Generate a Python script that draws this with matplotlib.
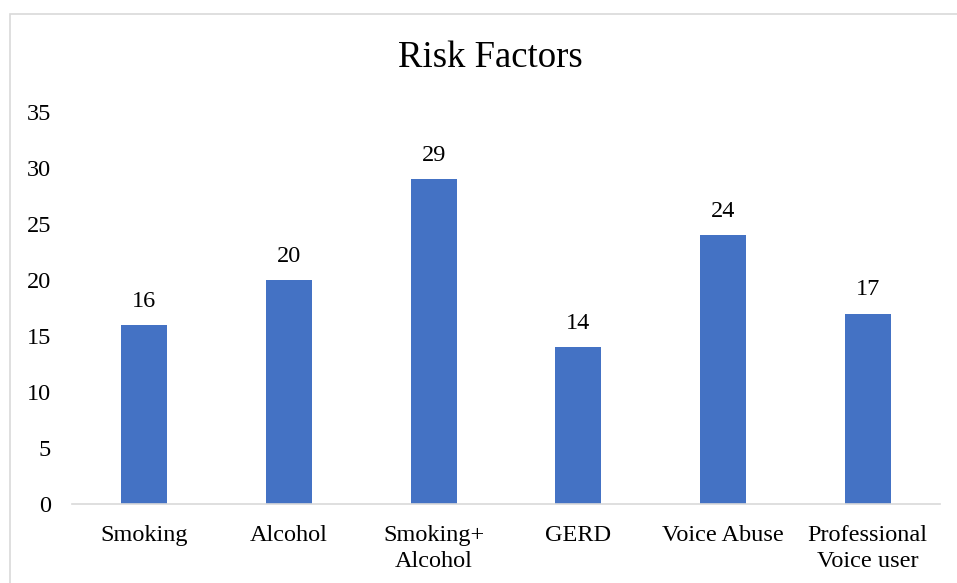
import matplotlib.pyplot as plt
from matplotlib.patches import Rectangle

# ------------------------
# Data
# ------------------------
categories = ["Smoking", "Alcohol", "Smoking+\nAlcohol", "GERD", "Voice Abuse", "Professional\nVoice user"]
counts = [16, 20, 29, 14, 24, 17]
y_ticks = [0, 5, 10, 15, 20, 25, 30, 35]

plt.rcParams["font.family"] = ["Liberation Serif", "DejaVu Serif"]

W, H = 957, 583
fig = plt.figure(figsize=(W / 100, H / 100), dpi=100)

# light chart-area border (cut off at right and bottom like the reference)
fig.patches.append(Rectangle((10 / W, -0.05), 1.2, 1 - 14 / H + 0.05,
                             transform=fig.transFigure, fill=False,
                             edgecolor="#d9d9d9", linewidth=1.2))

ax = fig.add_axes([72 / W, 1 - 504 / H, (940 - 72) / W, (504 - 112) / H])

x = range(len(categories))
bars = ax.bar(x, counts, width=0.32, color="#4472C4")

for rect, val in zip(bars, counts):
    ax.annotate(str(val), (rect.get_x() + rect.get_width() / 2, val),
                xytext=(0, 17), textcoords="offset points",
                ha="center", va="center", fontsize=17.5)

ax.set_xlim(-0.5, len(categories) - 0.5)
ax.set_ylim(0, 35)
ax.set_yticks(y_ticks)
ax.set_xticks(list(x))
ax.set_xticklabels(categories, fontsize=17.5, linespacing=1.3)
ax.tick_params(axis="y", length=0, pad=15, labelsize=17.5)
ax.tick_params(axis="x", length=0, pad=15)

for side in ["top", "right", "left"]:
    ax.spines[side].set_visible(False)
ax.spines["bottom"].set_color("#d9d9d9")
ax.spines["bottom"].set_linewidth(1.2)

fig.text(490 / W, 1 - 58 / H, "Risk Factors", ha="center", va="center", fontsize=26.5)

fig.savefig("out.png", dpi=100)
